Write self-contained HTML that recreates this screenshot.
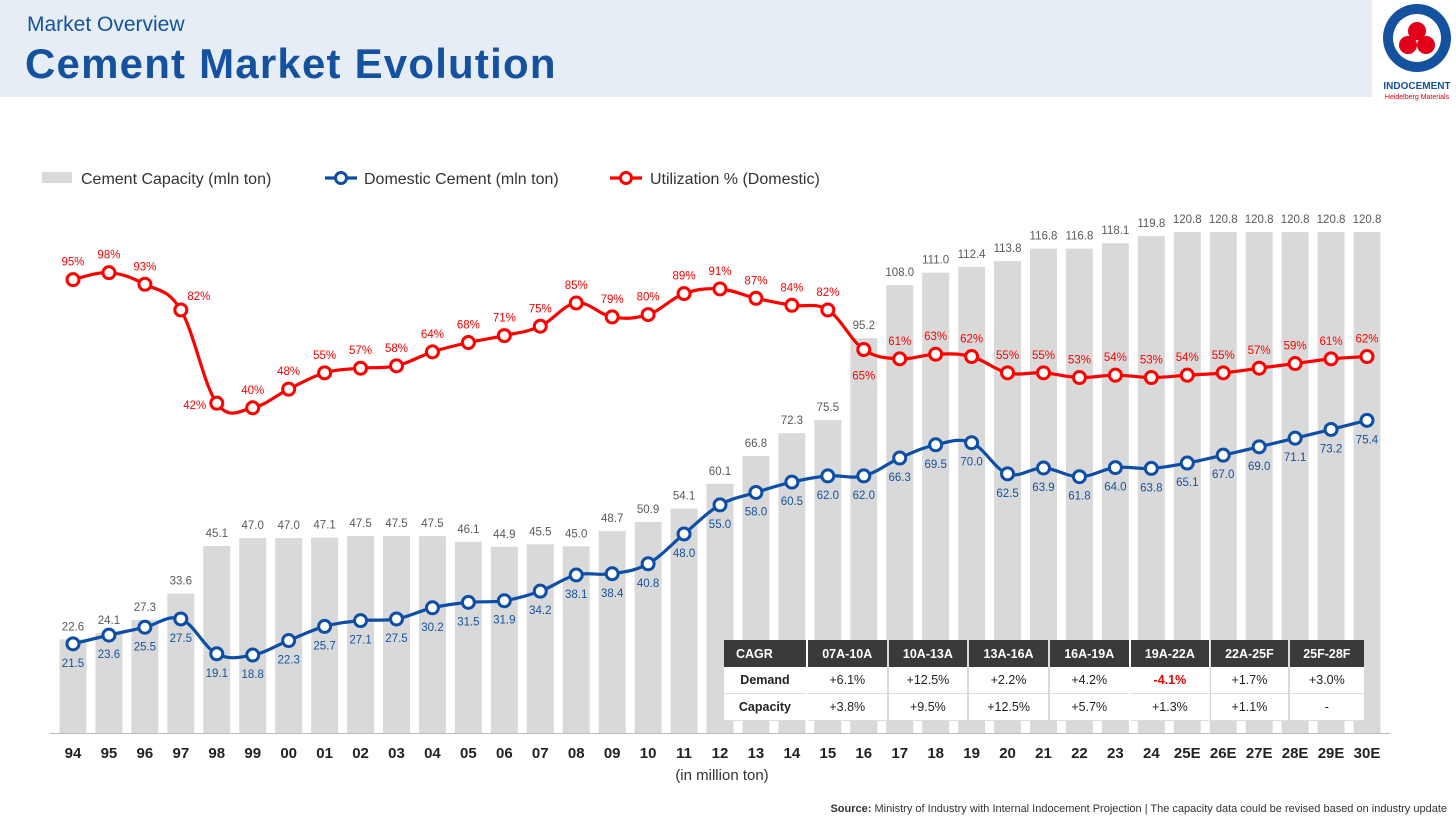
<!DOCTYPE html>
<html><head><meta charset="utf-8"><style>
body{margin:0;width:1456px;height:819px;background:#fff;font-family:"Liberation Sans",sans-serif;overflow:hidden;position:relative}
.hdr{position:absolute;left:0;top:0;width:1372px;height:97px;background:#e7edf5}
.t1{position:absolute;left:27px;top:13px;font-size:21px;color:#1452a0}
.t2{position:absolute;left:25px;top:40px;font-size:42px;font-weight:bold;color:#1452a0;letter-spacing:1.2px}
table{position:absolute;left:722px;top:640px;border-collapse:separate;border-spacing:2px 0;font-size:12.5px;width:644px}
td,th{padding:0}
td{height:26px;text-align:center;border-bottom:1px solid #ddd;background:#fff;color:#222}
th{height:27px;background:#3a3a3a;color:#fff;font-weight:bold}
</style></head><body>
<div class="hdr"></div>
<div class="t1">Market Overview</div>
<div class="t2">Cement Market Evolution</div>
<svg style="position:absolute;left:1378px;top:2px" width="78" height="110">
<circle cx="39" cy="36" r="34" fill="#1452a0"/><circle cx="39" cy="36" r="24" fill="#fff"/>
<circle cx="39" cy="29" r="9" fill="#e2001a"/><circle cx="30" cy="43" r="9" fill="#e2001a"/><circle cx="48" cy="43" r="9" fill="#e2001a"/>
<text x="39" y="87" font-size="10" font-weight="bold" fill="#1452a0" text-anchor="middle">INDOCEMENT</text>
<text x="39" y="97" font-size="7" fill="#e2001a" text-anchor="middle">Heidelberg Materials</text>
</svg>
<svg id="ch" width="1456" height="819" style="position:absolute;left:0;top:0"></svg>
<table>
<tr><th style="text-align:left;padding-left:12px">CAGR</th><th>07A-10A</th><th>10A-13A</th><th>13A-16A</th><th>16A-19A</th><th>19A-22A</th><th>22A-25F</th><th>25F-28F</th></tr>
<tr><td style="font-weight:bold">Demand</td><td>+6.1%</td><td>+12.5%</td><td>+2.2%</td><td>+4.2%</td><td style="color:#e00;font-weight:bold">-4.1%</td><td>+1.7%</td><td>+3.0%</td></tr>
<tr><td style="font-weight:bold">Capacity</td><td>+3.8%</td><td>+9.5%</td><td>+12.5%</td><td>+5.7%</td><td>+1.3%</td><td>+1.1%</td><td>-</td></tr>
</table>
<script>
const categories=["94","95","96","97","98","99","00","01","02","03","04","05","06","07","08","09","10","11","12","13","14","15","16","17","18","19","20","21","22","23","24","25E","26E","27E","28E","29E","30E"];
const capacity=[22.6,24.1,27.3,33.6,45.1,47.0,47.0,47.1,47.5,47.5,47.5,46.1,44.9,45.5,45.0,48.7,50.9,54.1,60.1,66.8,72.3,75.5,95.2,108.0,111.0,112.4,113.8,116.8,116.8,118.1,119.8,120.8,120.8,120.8,120.8,120.8,120.8];
const domestic=[21.5,23.6,25.5,27.5,19.1,18.8,22.3,25.7,27.1,27.5,30.2,31.5,31.9,34.2,38.1,38.4,40.8,48.0,55.0,58.0,60.5,62.0,62.0,66.3,69.5,70.0,62.5,63.9,61.8,64.0,63.8,65.1,67.0,69.0,71.1,73.2,75.4];
const utilization=[95,98,93,82,42,40,48,55,57,58,64,68,71,75,85,79,80,89,91,87,84,82,65,61,63,62,55,55,53,54,53,54,55,57,59,61,62];
const NS="http://www.w3.org/2000/svg",svg=document.getElementById('ch');
const x=i=>73+i*(1367-73)/36;
const y=v=>733-v*4.147;
const yu=v=>501-v*2.33;
function mk(t,a,p){const e=document.createElementNS(NS,t);for(const k in a)e.setAttribute(k,a[k]);(p||svg).appendChild(e);return e;}
function txt(s,a){const e=mk('text',a);e.textContent=s;return e;}
capacity.forEach((v,i)=>{
 const b=mk('rect',{x:x(i)-13.5,y:y(v),width:27,height:y(0)-y(v),fill:'#d9d9d9'});
 
 
 txt(v.toFixed(1),{x:x(i),y:y(v)-9,'font-size':11.5,fill:'#595959','text-anchor':'middle'});
});
function smooth(pts){let d='M'+pts[0][0]+','+pts[0][1];for(let i=0;i<pts.length-1;i++){const p0=pts[i-1]||pts[i],p1=pts[i],p2=pts[i+1],p3=pts[i+2]||p2;const k=0.18;d+=' C'+(p1[0]+(p2[0]-p0[0])*k)+','+(p1[1]+(p2[1]-p0[1])*k)+' '+(p2[0]-(p3[0]-p1[0])*k)+','+(p2[1]-(p3[1]-p1[1])*k)+' '+p2[0]+','+p2[1];}return d;}
function series(vals,fy,col,name,lab){
 const l=mk('path',{d:smooth(vals.map((v,i)=>[x(i),fy(v)])),fill:'none',stroke:col,'stroke-width':3.2});
 
 
 vals.forEach((v,i)=>{const c=mk('circle',{cx:x(i),cy:fy(v),r:6,fill:'#fff',stroke:col,'stroke-width':3});
 
 lab(v,i);});
}
series(domestic,y,'#0d4ea6','domestic',(v,i)=>txt(v.toFixed(1),{x:x(i),y:y(v)+23,'font-size':11.5,fill:'#1452a0','text-anchor':'middle'}));
series(utilization,yu,'#ff0000','utilization',(v,i)=>{let dx=0,dy=-14;if(i===4){dx=-22;dy=6;}if(i===3){dx=18;dy=-10;}if(i===22){dy=30;}
 txt(v+'%',{x:x(i)+dx,y:yu(v)+dy,'font-size':11.5,fill:'#ff0000','text-anchor':'middle'});});
mk('line',{x1:50,x2:1390,y1:733.5,y2:733.5,stroke:'#bbb','stroke-width':1});
categories.forEach((c,i)=>txt(c,{x:x(i),y:758,'font-size':15,'font-weight':'bold',fill:'#222','text-anchor':'middle'}));
txt('(in million ton)',{x:722,y:780,'font-size':15,fill:'#333','text-anchor':'middle'});
mk('rect',{x:42,y:172,width:30,height:11,fill:'#d9d9d9'});
txt('Cement Capacity (mln ton)',{x:81,y:184,'font-size':16,fill:'#333'});
mk('line',{x1:325,x2:357,y1:178,y2:178,stroke:'#0d4ea6','stroke-width':3.2});
mk('circle',{cx:341,cy:178,r:5.5,fill:'#fff',stroke:'#0d4ea6','stroke-width':3});
txt('Domestic Cement (mln ton)',{x:364,y:184,'font-size':16,fill:'#333'});
mk('line',{x1:610,x2:642,y1:178,y2:178,stroke:'#ff0000','stroke-width':3.2});
mk('circle',{cx:626,cy:178,r:5.5,fill:'#fff',stroke:'#ff0000','stroke-width':3});
txt('Utilization % (Domestic)',{x:650,y:184,'font-size':16,fill:'#333'});
const s=txt('',{x:1447,y:812,'font-size':11,fill:'#333','text-anchor':'end'});
s.innerHTML='<tspan font-weight="bold">Source:</tspan> Ministry of Industry with Internal Indocement Projection  |  The capacity data could be revised based on industry update';
</script>
</body></html>
